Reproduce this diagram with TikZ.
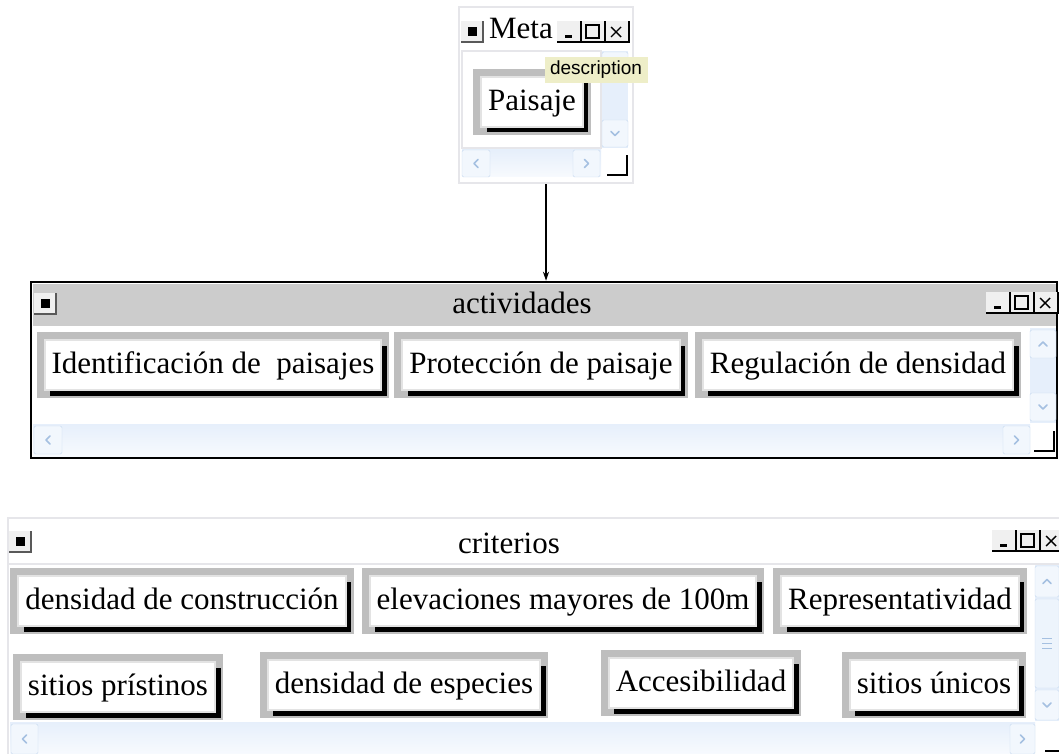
\documentclass[tikz,border=0pt]{standalone}
\usepackage{fontspec}
\setmainfont{Liberation Serif}
\newfontfamily\tipfont{Liberation Sans}
\usetikzlibrary{positioning,arrows.meta}

\definecolor{marcogris}{RGB}{190,190,190}
\definecolor{titulogris}{RGB}{204,204,204}
\definecolor{bordeclaro}{RGB}{230,230,234}
\definecolor{barraazul}{RGB}{230,239,251}
\definecolor{bordeazul}{RGB}{200,218,240}
\definecolor{flechaazul}{RGB}{165,192,225}
\definecolor{amarillo}{RGB}{238,238,200}

\tikzset{
  ventana/.style={rectangle, fill=white, line width=2.5pt, inner sep=0pt},
  titulo/.style={font=\fontsize{31}{36}\selectfont, inner sep=0pt, anchor=base},
  boton/.style={rectangle, font=\fontsize{31}{36}\selectfont, fill=white,
    draw=gray!22, line width=2pt, inner xsep=7pt, inner ysep=0pt,
    text height=23pt, text depth=6pt, minimum height=50pt,
    preaction={draw=marcogris, line width=16pt},
    preaction={fill=black, transform canvas={shift={(5.5pt,-5.5pt)}}}},
  globo/.style={fill=amarillo, font=\tipfont\fontsize{19}{22}\selectfont,
    inner sep=0pt, minimum width=103pt, minimum height=26pt},
  pista/.style={top color=barraazul, bottom color=barraazul!30!white}
}

% caja del menu de sistema
\newcommand\sistema[2]{%
  \fill[gray!12] (#1,#2) rectangle ++(22,21);
  \draw[gray!70!black, line width=1.5pt] (#1,#2+21) -- ++(22,0) -- ++(0,-21);
  \fill (#1+7,#2+6) rectangle ++(9,9);
}
% minimizar, maximizar, cerrar
\newcommand\controles[2]{%
  \fill[gray!12] (#1,#2) rectangle ++(72,21);
  \foreach \i in {0,1,2}
    \draw[line width=1.5pt] (#1+24*\i,#2+21) -- ++(24,0) -- ++(0,-21);
  \fill (#1+8,#2+14) rectangle ++(7,3);
  \draw[line width=1.2pt] (#1+29,#2+4) rectangle ++(13,13);
  \draw[line width=1.4pt] (#1+54,#2+6) -- ++(10,10) (#1+64,#2+6) -- ++(-10,10);
}
% boton de barra de desplazamiento
\newcommand\botonbarra[5]{%
  \draw[bordeazul, fill=barraazul!50!white, rounded corners=1.5pt] (#1,#2) rectangle ++(#3,#4);
  \draw[flechaazul, line width=1.5pt, line cap=round, line join=round,
    shift={(#1+#3/2,#2+#4/2)}, rotate=#5] (-2,-4) -- (2,0) -- (-2,4);
}
% esquina de redimensionar
\newcommand\esquina[2]{%
  \fill[white] (#1,#2) rectangle ++(20,20);
  \draw[line width=1.5pt] (#1,#2+20) -- ++(20,0) -- ++(0,-20);
}

\begin{document}
\begin{tikzpicture}[x=1pt,y=-1pt,>={Stealth[length=9pt,width=6pt]}]
\useasboundingbox (0,0) rectangle (1059,754);

% ventanas
\node[ventana, draw=bordeclaro, minimum width=174pt, minimum height=176pt] (meta) at (546,95) {};
\node[ventana, draw=black, minimum width=1026pt, minimum height=176pt] (actividades) at (544,370) {};
\node[ventana, draw=bordeclaro, minimum width=1060pt, minimum height=250pt] (criterios) at (538,643) {};

% --- Meta
\sistema{461}{21}
\node[titulo] (tmeta) at (521,39) {Meta};
\controles{557}{21}
\draw[bordeclaro, line width=1.5pt] (462,51) rectangle (601,148);
\fill[barraazul] (602,51) rectangle (628,148);
\botonbarra{602}{52}{26}{26}{90}
\botonbarra{602}{120}{26}{27}{-90}
\shade[pista] (462,150) rectangle (601,177);
\botonbarra{462}{150}{28}{27}{180}
\botonbarra{573}{150}{27}{27}{0}
\esquina{607}{155}
\node[boton] (paisaje) at (532,102) {Paisaje};
\node[globo] (desc) at (596,70) {description};

% --- actividades
\fill[titulogris] (32.5,283.5) rectangle (1055.5,326);
\sistema{34}{293}
\node[titulo] (tact) at (522,313) {actividades};
\controles{986}{292}
\fill[barraazul] (1030,328) rectangle (1056,423);
\botonbarra{1030}{330}{26}{28}{90}
\botonbarra{1030}{393}{26}{28}{-90}
\shade[pista] (33,424) rectangle (1030,456.5);
\botonbarra{34}{426}{28}{28}{180}
\botonbarra{1003}{426}{27}{28}{0}
\esquina{1034}{431}
\node[boton] (ident) at (213,365) {Identificación de\ \ paisajes};
\node[boton] (proteccion) at (541,365) {Protección de paisaje};
\node[boton] (regulacion) at (858,365) {Regulación de densidad};

% --- criterios
\sistema{9}{531}
\node[titulo] (tcrit) at (509,553) {criterios};
\controles{992}{530}
\draw[bordeclaro, line width=1.5pt] (9,564) -- (1059,564);
\fill[barraazul] (1035,565) rectangle (1059,721);
\botonbarra{1035}{566}{24}{31}{90}
\draw[bordeazul, fill=barraazul!70!white, rounded corners=1.5pt] (1035,599) rectangle ++(24,89);
\draw[flechaazul, line width=1pt] (1042,638) -- ++(10,0) (1042,643) -- ++(10,0) (1042,648) -- ++(10,0);
\botonbarra{1035}{690}{24}{30}{-90}
\shade[pista] (10,722) rectangle (1035,754);
\botonbarra{11}{724}{27}{30}{180}
\botonbarra{1010}{724}{25}{30}{0}
\esquina{1045}{731}
\node[boton] (densconst) at (182,601) {densidad de construcción};
\node[boton] (elevaciones) at (563,601) {elevaciones mayores de 100m};
\node[boton] (represent) at (900,601) {Representatividad};
\node[boton] (pristinos) at (118,687) {sitios prístinos};
\node[boton] (especies) at (404,685) {densidad de especies};
\node[boton] (accesib) at (701,683) {Accesibilidad};
\node[boton] (unicos) at (934,685) {sitios únicos};

\draw[->, line width=1.2pt] (meta) -- (meta |- actividades.north);
\end{tikzpicture}
\end{document}
